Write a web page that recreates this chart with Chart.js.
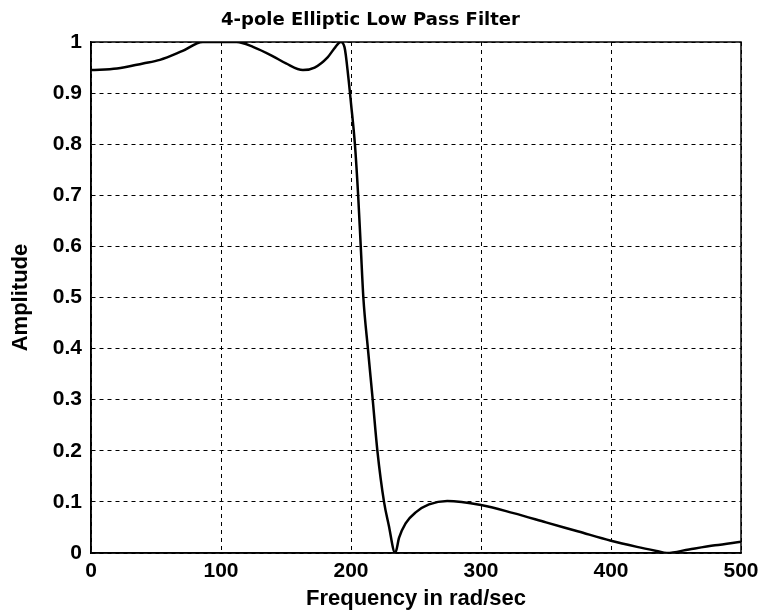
<!DOCTYPE html>
<html>
<head>
<meta charset="utf-8">
<script src="https://cdn.jsdelivr.net/npm/chart.js@4/dist/chart.umd.min.js"></script>
<style>
  html, body { margin: 0; padding: 0; background: #fff; }
  #wrap { width: 763px; height: 614px; }
</style>
</head>
<body>
<div id="wrap"><canvas id="filterChart" width="763" height="614"></canvas></div>
<script>
// Values
const freqs = [0, 20, 40, 53, 70, 86, 100, 112, 125, 140, 150, 163, 172, 182, 188, 192,
    195, 198, 200, 203, 205.5, 207.5, 209.5, 213, 216.7, 220.3, 225.4, 229, 234,
    237, 242, 250, 260, 274, 300, 325, 350, 375, 400, 420, 435, 443, 460, 480, 500];
const amps = [0.945, 0.948, 0.958, 0.965, 0.982, 1.0, 1.0, 1.0, 0.99, 0.972, 0.958, 0.945, 0.95, 0.97, 0.99, 1.0,
    0.99, 0.93, 0.88, 0.80, 0.70, 0.60, 0.50, 0.40, 0.30, 0.20, 0.10, 0.055, 0.0,
    0.03, 0.058, 0.08, 0.095, 0.102, 0.094, 0.078, 0.06, 0.042, 0.024, 0.012, 0.004, 0.0, 0.007, 0.015, 0.022];
const xTicks = [0, 100, 200, 300, 400, 500];
const yTicks = [0, 0.1, 0.2, 0.3, 0.4, 0.5, 0.6, 0.7, 0.8, 0.9, 1];

const tickFont = { family: 'Liberation Sans, Arial, sans-serif', size: 21, weight: 'bold' };
const labelFont = { family: 'Liberation Sans, Arial, sans-serif', size: 22, weight: 'bold' };

// solid frame round the plot area, like the MATLAB box
const boxPlugin = {
    id: 'box',
    afterDatasetsDraw(chart) {
        const { ctx, chartArea: a } = chart;
        ctx.save();
        ctx.strokeStyle = '#000';
        ctx.lineWidth = 1.5;
        ctx.strokeRect(a.left, a.top, a.right - a.left, a.bottom - a.top);
        ctx.restore();
    }
};

new Chart(document.getElementById('filterChart'), {
    type: 'line',
    data: {
        datasets: [{
            data: freqs.map((f, i) => ({ x: f, y: amps[i] })),
            borderColor: '#000',
            borderWidth: 2.5,
            pointRadius: 0,
            cubicInterpolationMode: 'monotone',
            fill: false
        }]
    },
    options: {
        responsive: false,
        animation: false,
        layout: { padding: { top: 0, right: 22, left: 0, bottom: 0 } },
        plugins: {
            legend: { display: false },
            tooltip: { enabled: false },
            title: {
                display: true,
                text: '4-pole Elliptic Low Pass Filter',
                color: '#000',
                font: { family: 'DejaVu Sans, sans-serif', size: 18, weight: 'bold' },
                padding: { top: 10, bottom: 10.4 }
            }
        },
        scales: {
            x: {
                type: 'linear',
                min: 0,
                max: 500,
                afterBuildTicks: s => { s.ticks = xTicks.map(v => ({ value: v })); },
                afterFit: s => { s.height = 61; s.paddingLeft = 0; s.paddingRight = 0; },
                ticks: { color: '#000', font: tickFont, padding: 6, maxRotation: 0 },
                grid: { color: '#000', lineWidth: 1, drawTicks: false },
                border: { color: '#000', width: 1.5, dash: [4, 4] },
                title: {
                    display: true,
                    text: 'Frequency in rad/sec',
                    color: '#000',
                    font: labelFont,
                    padding: { top: 2, bottom: 2 }
                }
            },
            y: {
                min: 0,
                max: 1,
                afterBuildTicks: s => { s.ticks = yTicks.map(v => ({ value: v })); },
                afterFit: s => { s.width = 91; },
                ticks: {
                    color: '#000',
                    font: tickFont,
                    padding: 9,
                    callback: v => String(+v.toFixed(1))
                },
                grid: { color: '#000', lineWidth: 1, drawTicks: false },
                border: { color: '#000', width: 1.5, dash: [4, 4] },
                title: {
                    display: true,
                    text: 'Amplitude',
                    color: '#000',
                    font: labelFont,
                    padding: { top: 8, bottom: 0 }
                }
            }
        }
    },
    plugins: [boxPlugin]
});
</script>
</body>
</html>
